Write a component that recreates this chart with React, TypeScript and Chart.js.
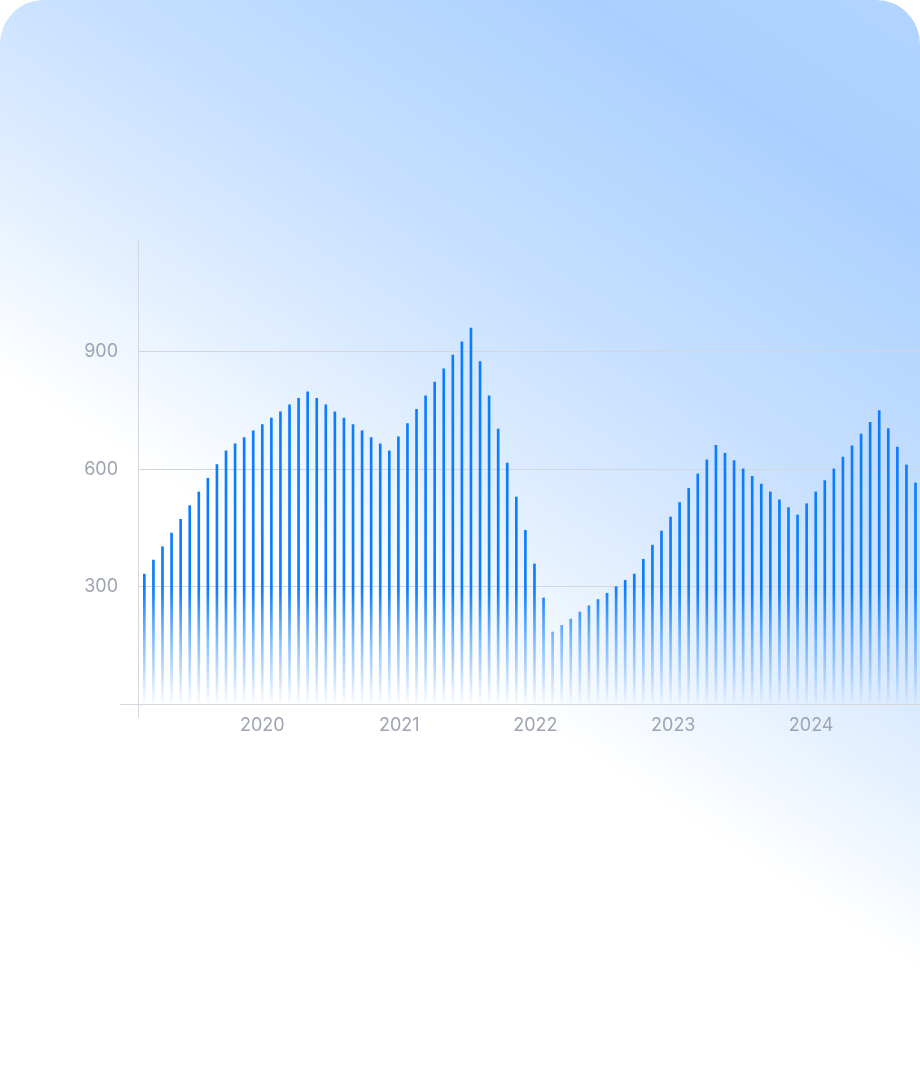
import { useEffect, useRef } from "react";
import { Chart, registerables } from "chart.js";

Chart.register(...registerables);

// bar heights, one per period
const values = [
  332, 368, 402, 437, 472, 507, 542, 577, 612, 647, 665, 681, 698, 714, 731,
  747, 765, 781, 798, 781, 765, 747, 731, 714, 698, 681, 665, 647, 683, 717,
  753, 788, 823, 857, 892, 926, 961, 875, 788, 703, 616, 529, 444, 358, 271,
  184, 201, 217, 235, 251, 267, 283, 300, 316, 332, 370, 406, 442, 478, 515,
  551, 588, 624, 661, 641, 622, 601, 582, 562, 542, 522, 502, 483, 512, 542,
  571, 601, 631, 660, 690, 720, 750, 704, 657, 611, 565, 518,
];

// year labels and where they sit on the period axis
const yearLabels = ["2020", "2021", "2022", "2023", "2024"];
const yearPositions = [13, 28.1, 43.1, 58.3, 73.5];

const yTicks = [0, 300, 600, 900];
const xMin = -0.7;
const xMax = 87.7;
const yMax = 1186;

const axisColor = "#d5d8de";
const gridColor = "#d3d6dc";
const labelColor = "#9fa4b2";

export default function App() {
  const canvasRef = useRef<HTMLCanvasElement | null>(null);
  const chartRef = useRef<Chart | null>(null);

  useEffect(() => {
    if (!canvasRef.current) return;
    const ctx = canvasRef.current.getContext("2d");
    if (!ctx) return;

    chartRef.current = new Chart(ctx, {
      type: "bar",
      data: {
        datasets: [
          {
            data: values.map((v, i) => ({ x: i, y: v })),
            barThickness: 2,
            borderWidth: 0,
            backgroundColor: (c: any) => {
              const area = c.chart.chartArea;
              if (!area) return "#0c7dff";
              // fade bars out toward the baseline
              const g = c.chart.ctx.createLinearGradient(0, area.bottom, 0, area.bottom - 115);
              g.addColorStop(0, "rgba(12,125,255,0.02)");
              g.addColorStop(0.55, "rgba(12,125,255,0.5)");
              g.addColorStop(1, "rgba(12,125,255,1)");
              return g;
            },
          },
        ],
      },
      options: {
        responsive: false,
        animation: false,
        layout: { padding: { top: 240, left: 0, right: 0, bottom: 0 } },
        plugins: {
          legend: { display: false },
          tooltip: { enabled: false },
        },
        scales: {
          x: {
            type: "linear",
            min: xMin,
            max: xMax,
            offset: false,
            afterBuildTicks: (scale: any) => {
              scale.ticks = [xMin, ...yearPositions].map((v) => ({ value: v }));
            },
            afterFit: (scale: any) => {
              scale.height = 76;
            },
            grid: {
              offset: false,
              drawOnChartArea: false,
              tickLength: 14,
              tickColor: (c: any) => (c.index === 0 ? axisColor : "transparent"),
            },
            border: { color: axisColor, width: 1 },
            ticks: {
              autoSkip: false,
              maxRotation: 0,
              padding: -3,
              color: labelColor,
              font: { family: "Inter", size: 18 },
              callback: (_v: any, i: number) => (i === 0 ? "" : yearLabels[i - 1]),
            },
          },
          y: {
            min: 0,
            max: yMax,
            afterBuildTicks: (scale: any) => {
              scale.ticks = yTicks.map((v) => ({ value: v }));
            },
            afterFit: (scale: any) => {
              scale.width = 138;
            },
            grid: {
              tickLength: 18,
              color: (c: any) => (c.tick?.value > 0 ? gridColor : "transparent"),
              tickColor: (c: any) => (c.tick?.value === 0 ? axisColor : "transparent"),
            },
            border: { color: axisColor, width: 1 },
            ticks: {
              autoSkip: false,
              padding: 2,
              color: labelColor,
              font: { family: "Inter", size: 18 },
              callback: (v: any) => (v === 0 ? "" : String(v)),
            },
          },
        },
      } as any,
    });

    return () => {
      chartRef.current?.destroy();
      chartRef.current = null;
    };
  }, []);

  return (
    <div
      style={{
        position: "absolute",
        left: 0,
        top: 0,
        width: 920,
        height: 1079,
        borderRadius: 44,
        overflow: "hidden",
        background:
          "linear-gradient(213deg, #b1d5ff 0%, #abd0ff 13%, #cbe2ff 35%, #e2efff 46%, #ffffff 58%)",
      }}
    >
      <canvas
        ref={canvasRef}
        width={940}
        height={780}
        style={{ position: "absolute", left: 0, top: 0, width: 940, height: 780 }}
      ></canvas>
    </div>
  );
}
